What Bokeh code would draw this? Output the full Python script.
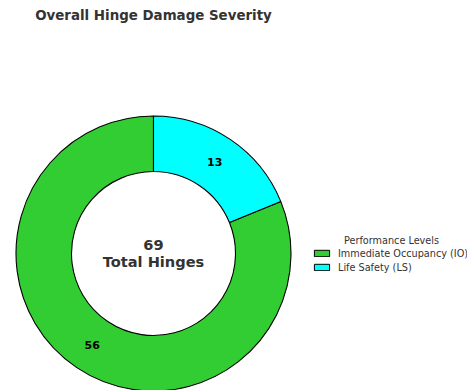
import numpy as np
from bokeh.plotting import figure
from bokeh.models import ColumnDataSource, Legend, LegendItem, Range1d
from bokeh.core.properties import value
from bokeh.embed import file_html
from bokeh.resources import INLINE

levels = ["Immediate Occupancy (IO)", "Life Safety (LS)"]
counts = [56, 13]
colors = ["#32CD32", "#00FFFF"]
chart_title = "Overall Hinge Damage Severity"
legend_title = "Performance Levels"
center_label = "Total Hinges"

W, H = 467, 390
cx, cy = 153, H - 253
r_out, r_in = 137.5, 82

total = sum(counts)
fr = np.array(counts) / total
cum = np.concatenate([[0], np.cumsum(fr)[:-1]])
start = np.deg2rad(90 + 360 * cum)
end = np.deg2rad(90 + 360 * (cum + fr))
mid = (start + end) / 2
r_lab = (r_in + r_out) / 2

src = ColumnDataSource(dict(
    start=start, end=end, color=colors, level=levels,
    lx=cx + r_lab * np.cos(mid), ly=cy + r_lab * np.sin(mid),
    lab=[str(c) for c in counts],
))

p = figure(width=W, height=H, x_range=Range1d(0, W), y_range=Range1d(0, H),
           output_backend="svg", toolbar_location=None, min_border=0)
p.axis.visible = False
p.grid.visible = False
p.outline_line_color = None

p.annular_wedge(x=cx, y=cy, inner_radius=r_in, outer_radius=r_out,
                start_angle="start", end_angle="end", direction="anticlock",
                fill_color="color", line_color="black", line_width=1.1, source=src)

p.text(x="lx", y="ly", text="lab", source=src, text_align="center", text_baseline="middle",
       text_font=value("DejaVu Sans"), text_font_style="bold", text_font_size="11px",
       text_color="black")

p.text(x=[cx, cx], y=[H - 244, H - 261], text=[str(total), center_label],
       text_align="center", text_baseline="middle", text_font=value("DejaVu Sans"),
       text_font_style="bold", text_font_size="14.6px", text_color="#333333")

p.text(x=[cx], y=[H - 15], text=[chart_title], text_align="center", text_baseline="middle",
       text_font=value("DejaVu Sans"), text_font_style="bold", text_font_size="13.4px",
       text_color="#333333")

# legend swatches (no visible data, used only for the legend)
rends = []
for c in colors:
    r = p.rect(x=[np.nan], y=[np.nan], width=1, height=1, fill_color=c, line_color="black", line_width=1)
    rends.append(r)

p.text(x=[391], y=[H - 240], text=[legend_title], text_align="center", text_baseline="middle",
       text_font=value("DejaVu Sans"), text_font_size="9.7px", text_color="#333333")

legend = Legend(items=[LegendItem(label=l, renderers=[r]) for l, r in zip(levels, rends)],
                location=(312, 117), margin=0, padding=0, spacing=2,
                glyph_width=19, glyph_height=8, label_height=12, label_standoff=7,
                label_text_font="DejaVu Sans", label_text_font_size="9.7px",
                label_text_color="#333333", border_line_alpha=0, background_fill_alpha=0)
p.add_layout(legend, "center")

open("out.html", "w").write(file_html(p, INLINE))
